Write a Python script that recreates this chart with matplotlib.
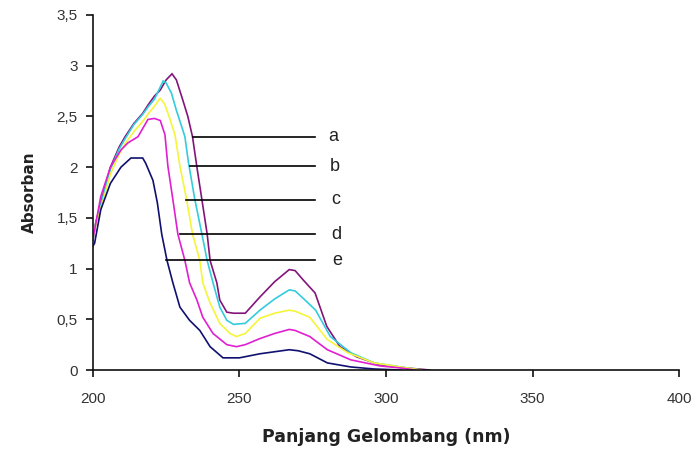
import matplotlib
matplotlib.use("Agg")
import matplotlib.pyplot as plt
from matplotlib.ticker import FuncFormatter

plt.rcParams['font.family'] = ['Liberation Sans', 'DejaVu Sans']

# Series: wavelength (nm) and absorbance
a_x = [200, 201, 203, 206, 209, 211, 214, 217, 219, 221, 223, 225, 227, 228.5, 230.7, 232.4, 234,
       235.5, 237.2, 239, 240, 242.3, 243.3, 245.7, 248, 252, 257, 262, 267, 269, 272, 275.8,
       279.8, 284.3, 290, 298, 307, 315]
a_y = [1.28, 1.45, 1.68, 2.0, 2.2, 2.3, 2.43, 2.53, 2.62, 2.70, 2.76, 2.86, 2.92, 2.86, 2.66, 2.50, 2.30,
       2.0, 1.68, 1.34, 1.08, 0.86, 0.69, 0.57, 0.56, 0.56, 0.72, 0.87, 0.99, 0.98, 0.88, 0.76,
       0.43, 0.23, 0.13, 0.05, 0.02, 0.0]

b_x = [200, 201, 203, 206, 209, 211, 214, 217, 219, 221, 222.5, 224, 225, 226.8, 228.5, 230.3, 231.4,
       232.6, 234.8, 237.2, 239, 241, 243.3, 245.7, 248, 252, 257, 262, 267, 269, 272, 276,
       281, 288, 296, 305, 312]
b_y = [1.28, 1.45, 1.66, 1.98, 2.18, 2.28, 2.42, 2.52, 2.60, 2.67, 2.76, 2.85, 2.83, 2.73, 2.56, 2.40, 2.30,
       2.05, 1.68, 1.34, 1.08, 0.86, 0.62, 0.49, 0.45, 0.46, 0.59, 0.70, 0.79, 0.78, 0.70, 0.59,
       0.33, 0.17, 0.07, 0.03, 0.0]

c_x = [200, 201, 203, 206, 209, 211, 214, 217, 219, 221, 223, 224.5, 226, 228, 229.7, 232, 234,
       236.5, 237.5, 240, 243.3, 246.8, 249, 252, 257, 262, 267, 269, 274, 280, 287, 296, 305, 312]
c_y = [1.30, 1.43, 1.62, 1.93, 2.13, 2.23, 2.35, 2.45, 2.53, 2.60, 2.68, 2.62, 2.50, 2.32, 2.01, 1.68, 1.34,
       1.08, 0.86, 0.66, 0.46, 0.36, 0.33, 0.36, 0.51, 0.56, 0.59, 0.58, 0.52, 0.30, 0.17, 0.07, 0.03, 0.0]

d_x = [200, 200.6, 202.7, 206, 209.6, 212, 215.4, 218.8, 221, 223, 224.6, 225.6, 227.3, 229, 231.4,
       233, 235.5, 237.5, 241, 245.7, 249, 252, 257, 262, 267, 269, 274, 280, 288, 298, 305, 310]
d_y = [1.30, 1.38, 1.71, 2.0, 2.17, 2.24, 2.30, 2.47, 2.48, 2.46, 2.32, 2.01, 1.68, 1.34, 1.08,
       0.86, 0.69, 0.52, 0.36, 0.25, 0.23, 0.25, 0.31, 0.36, 0.40, 0.39, 0.33, 0.20, 0.10, 0.04, 0.02, 0.0]

e_x = [200, 200.6, 202.7, 206, 209.6, 213, 217, 218, 220.5, 222, 223.5, 225.3, 227.3, 229.7, 233,
       236.5, 240, 244.4, 250, 257, 267, 270, 274, 280, 288, 296, 305]
e_y = [1.22, 1.25, 1.58, 1.84, 2.0, 2.09, 2.09, 2.04, 1.87, 1.65, 1.34, 1.08, 0.86, 0.62, 0.49,
       0.39, 0.23, 0.12, 0.12, 0.16, 0.20, 0.19, 0.16, 0.07, 0.03, 0.01, 0.0]

series_names = ['a', 'b', 'c', 'd', 'e']
series_x = [a_x, b_x, c_x, d_x, e_x]
series_y = [a_y, b_y, c_y, d_y, e_y]
colors = ['#84147A', '#33CCDD', '#F5F53A', '#E020D0', '#101070']

# Label leader lines: start x (nm), y level, end x, label x
leader_start = [234.1, 233.1, 231.7, 229.7, 224.9]
leader_y = [2.30, 2.01, 1.68, 1.34, 1.08]
leader_end = 275.8
label_x = [282.0, 282.5, 283.0, 283.0, 283.5]

x_ticks = [200, 250, 300, 350, 400]
y_ticks = [0, 0.5, 1, 1.5, 2, 2.5, 3, 3.5]

fig = plt.figure(figsize=(6.98, 4.54), dpi=100)
ax = fig.add_axes([0.133, 0.185, 0.840, 0.782])

for xs, ys, col in zip(series_x, series_y, colors):
    ax.plot(xs, ys, color=col, lw=1.2, solid_joinstyle='miter')

for name, xs0, yl, lx in zip(series_names, leader_start, leader_y, label_x):
    ax.plot([xs0, leader_end], [yl, yl], color='black', lw=1.2)
    ax.text(lx, yl, name, fontsize=13, ha='center', va='center', color='#222222')

ax.set_xlim(200, 400)
ax.set_ylim(0, 3.5)
ax.set_xticks(x_ticks)
ax.set_yticks(y_ticks)
ax.yaxis.set_major_formatter(FuncFormatter(lambda v, p: ('%g' % v).replace('.', ',')))
ax.spines['top'].set_visible(False)
ax.spines['right'].set_visible(False)
for s in ['left', 'bottom']:
    ax.spines[s].set_linewidth(1.2)
    ax.spines[s].set_color('#111111')
ax.tick_params(axis='both', direction='out', length=5, width=1.2, colors='#111111',
               labelsize=11, labelcolor='#333333')
ax.tick_params(axis='x', pad=11)
ax.tick_params(axis='y', pad=6)
ax.set_xlabel('Panjang Gelombang (nm)', fontsize=12.5, fontweight='bold', color='#222222',
              labelpad=16, family=['DejaVu Sans'])
ax.set_ylabel('Absorban', fontsize=11, fontweight='bold', color='#222222',
              labelpad=14, family=['DejaVu Sans'])

fig.savefig('out.png', dpi=100)
